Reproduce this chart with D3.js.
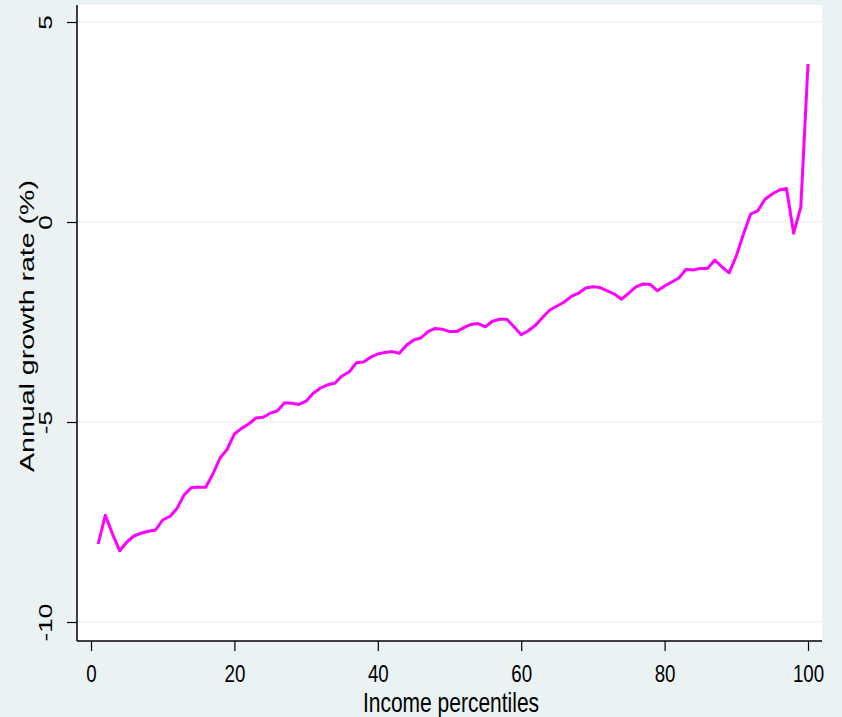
<!DOCTYPE html>
<html>
<head>
<meta charset="utf-8">
<script src="https://cdn.jsdelivr.net/npm/d3@7"></script>
<style>
  html, body { margin: 0; padding: 0; background: #eaf2f3; }
  svg { display: block; }
</style>
</head>
<body>
<svg id="chart" width="842" height="717"></svg>
<script>
const percentiles = d3.range(1, 101);
const growthRates = [
  -8.05, -7.33, -7.80, -8.22, -8.00, -7.85, -7.78, -7.73, -7.70, -7.45,
  -7.36, -7.16, -6.82, -6.64, -6.63, -6.63, -6.30, -5.90, -5.68, -5.30,
  -5.16, -5.05, -4.90, -4.88, -4.78, -4.72, -4.52, -4.53, -4.56, -4.48,
  -4.28, -4.15, -4.07, -4.03, -3.85, -3.75, -3.52, -3.50, -3.38, -3.30,
  -3.26, -3.24, -3.28, -3.08, -2.95, -2.90, -2.74, -2.66, -2.68, -2.74,
  -2.74, -2.64, -2.56, -2.54, -2.62, -2.48, -2.43, -2.43, -2.62, -2.82,
  -2.72, -2.58, -2.38, -2.20, -2.10, -2.00, -1.86, -1.78, -1.65, -1.62,
  -1.64, -1.72, -1.80, -1.93, -1.78, -1.62, -1.55, -1.56, -1.72, -1.60,
  -1.50, -1.40, -1.18, -1.20, -1.16, -1.16, -0.95, -1.12, -1.27, -0.85,
  -0.30, 0.20, 0.28, 0.57, 0.70, 0.80, 0.84, -0.28, 0.38, 3.95
];
const xTicks = [0, 20, 40, 60, 80, 100];
const yTicks = [-10, -5, 0, 5];
const xTitle = "Income percentiles";
const yTitle = "Annual growth rate (%)";

const svg = d3.select("#chart");
const plot = { left: 77, right: 822, top: 5, bottom: 641 };
const FONT = "'Liberation Sans', Arial, sans-serif";

const x = d3.scaleLinear().domain([0, 100]).range([91, 808]);
const y = d3.scaleLinear().domain([-10, 5]).range([622, 22]);

// plot region
svg.append("rect")
  .attr("x", plot.left).attr("y", plot.top)
  .attr("width", plot.right - plot.left).attr("height", plot.bottom - plot.top)
  .attr("fill", "#ffffff");

// gridlines
svg.append("g").selectAll("line").data(yTicks).join("line")
  .attr("x1", plot.left).attr("x2", plot.right)
  .attr("y1", d => y(d)).attr("y2", d => y(d))
  .attr("stroke", "#eaf2f3").attr("stroke-width", 1.5);

// line
const line = d3.line().x((d, i) => x(percentiles[i])).y(d => y(d));
svg.append("path").datum(growthRates)
  .attr("d", line)
  .attr("fill", "none")
  .attr("stroke", "#ff00ff")
  .attr("stroke-width", 3)
  .attr("stroke-linejoin", "round");

// y axis
const yAxis = d3.axisLeft(y).tickValues(yTicks).tickSize(10).tickSizeOuter(0).tickFormat(d => String(d));
const gy = svg.append("g").attr("transform", `translate(${plot.left},0)`).call(yAxis);
gy.select(".domain").attr("d", `M0,${plot.top}V${plot.bottom}`).attr("stroke", "#000").attr("stroke-width", 1.5);
gy.selectAll(".tick line").attr("stroke", "#000").attr("stroke-width", 1.2);
gy.selectAll(".tick text")
  .attr("x", 0).attr("y", 0).attr("dy", 0)
  .attr("transform", "translate(-25,0) rotate(-90) scale(1.38,1)")
  .attr("text-anchor", "middle")
  .style("font-family", FONT)
  .style("font-size", "19px")
  .attr("fill", "#000");

// x axis
const xAxis = d3.axisBottom(x).tickValues(xTicks).tickSize(10).tickSizeOuter(0);
const gx = svg.append("g").attr("transform", `translate(0,${plot.bottom})`).call(xAxis);
gx.select(".domain").attr("d", `M${plot.left},0H${plot.right}`).attr("stroke", "#000").attr("stroke-width", 1.5);
gx.selectAll(".tick line").attr("stroke", "#000").attr("stroke-width", 1.2);
gx.selectAll(".tick text")
  .attr("x", 0).attr("y", 0).attr("dy", 0)
  .attr("transform", "translate(0,41) scale(0.78,1)")
  .attr("text-anchor", "middle")
  .style("font-family", FONT)
  .style("font-size", "24px")
  .attr("fill", "#000");

// titles
svg.append("text")
  .attr("transform", "translate(451,712) scale(0.75,1)")
  .attr("text-anchor", "middle")
  .style("font-family", FONT)
  .style("font-size", "28px")
  .attr("fill", "#000")
  .text(xTitle);

svg.append("text")
  .attr("transform", "translate(34,326) rotate(-90) scale(1.36,1)")
  .attr("text-anchor", "middle")
  .style("font-family", FONT)
  .style("font-size", "21px")
  .attr("fill", "#000")
  .text(yTitle);
</script>
</body>
</html>
